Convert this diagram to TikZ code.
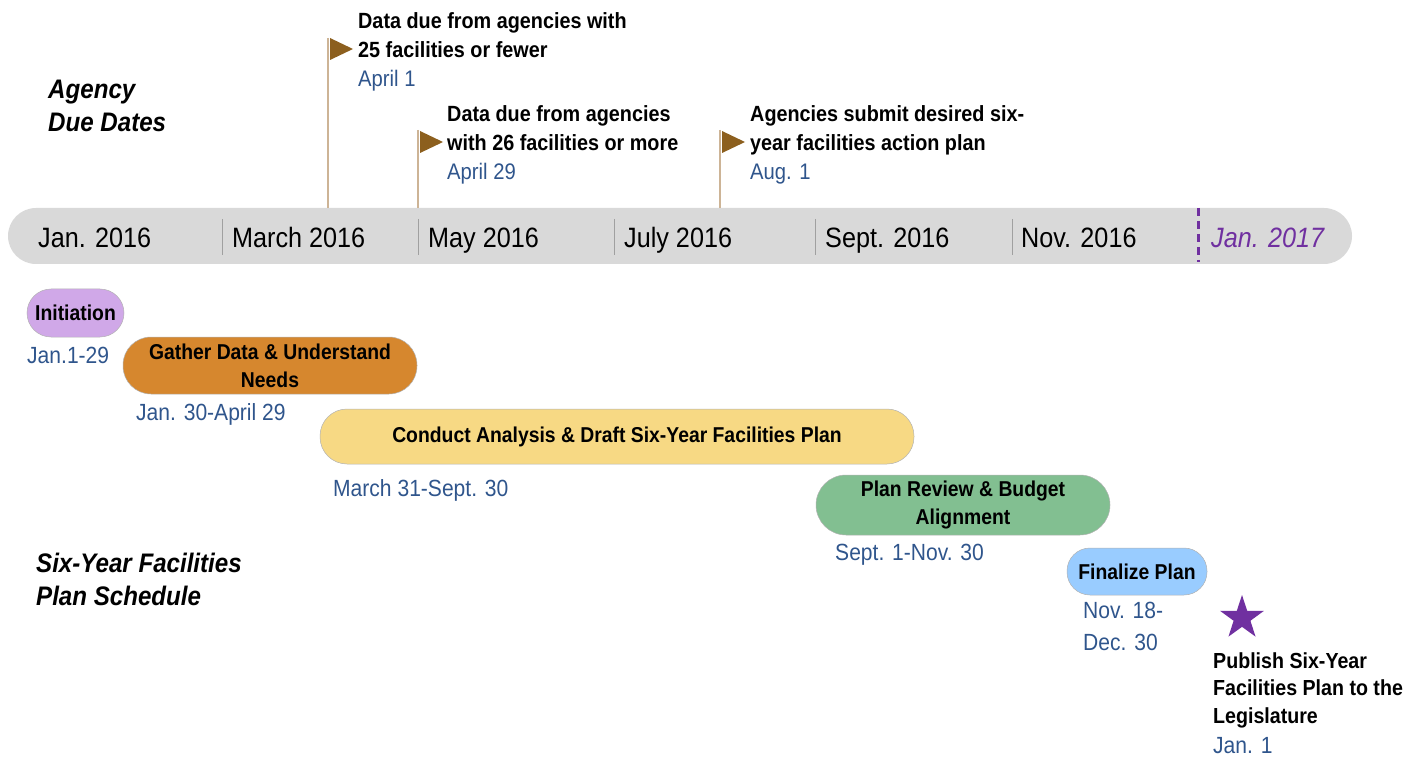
\documentclass[tikz,border=0pt]{standalone}
\usepackage{fontspec}
\setmainfont{Liberation Sans}[FakeStretch=0.9]
\usetikzlibrary{shapes.geometric}
\definecolor{bargray}{RGB}{217,217,217}
\definecolor{sepgray}{RGB}{160,160,160}
\definecolor{poletan}{RGB}{205,180,150}
\definecolor{flagbrown}{RGB}{140,95,30}
\definecolor{dateblue}{RGB}{47,85,140}
\definecolor{jpurple}{RGB}{112,48,160}
\definecolor{initc}{RGB}{208,168,232}
\definecolor{gatherc}{RGB}{214,135,46}
\definecolor{conductc}{RGB}{247,217,132}
\definecolor{reviewc}{RGB}{130,191,145}
\definecolor{finalc}{RGB}{153,204,255}
\tikzset{
  blk/.style={font=\fontsize{22}{29}\selectfont\bfseries, text=black, inner sep=0, anchor=north west, align=left},
  dt/.style={font=\fontsize{22.5}{32}\selectfont, text=dateblue, inner sep=0, anchor=base west, align=left},
  pdt/.style={dt, font=\fontsize{23.4}{32}\selectfont},
  month/.style={font=\fontsize{28}{30}\selectfont, inner sep=0, anchor=base west},
  sect/.style={font=\fontsize{26.8}{33}\selectfont\bfseries\itshape, inner sep=0, anchor=north west, align=left},
  phase/.style={font=\fontsize{21.5}{28}\selectfont\bfseries, draw=gray!60, line width=0.5pt, inner sep=0, align=center},
  pole/.style={draw=poletan, line width=1.6pt},
  sepline/.style={draw=sepgray, line width=0.8pt},
  flagtri/.style={fill=flagbrown}
}
\begin{document}
\begin{tikzpicture}[x=1pt,y=-1pt]
\useasboundingbox (0,0) rectangle (1421,759);
% timeline bar
\node (bar) [fill=bargray, rounded corners=28pt, minimum width=1344pt, minimum height=56pt, inner sep=0] at (680,236) {};
\foreach \x in {222,418,614,815,1012} \draw[sepline] (\x,219) -- (\x,255);
\draw[jpurple, line width=3pt, dash pattern=on 8pt off 5pt] (1198,208) -- (1198,262);
\node[month] (m1) at (38,248) {Jan. 2016};
\node[month] (m2) at (232,248) {March 2016};
\node[month] (m3) at (428,248) {May 2016};
\node[month] (m4) at (624,248) {July 2016};
\node[month] (m5) at (825,248) {Sept. 2016};
\node[month] (m6) at (1021,248) {Nov. 2016};
\node[month, font=\fontsize{28}{30}\selectfont\itshape, text=jpurple] (m7) at (1211,248) {Jan. 2017};
% section labels
\node[sect] (agency) at (48,80) {Agency\\Due Dates};
\node[sect] (sched) at (36,553) {Six-Year Facilities\\Plan Schedule};
% flags
\coordinate (f1) at (328,38);
\coordinate (f2) at (418,130);
\coordinate (f3) at (720,130);
\draw[pole] (f1) -- (f1 |- bar.north);
\draw[pole] (f2) -- (f2 |- bar.north);
\draw[pole] (f3) -- (f3 |- bar.north);
\fill[flagtri] (330,38) -- (353,49) -- (330,60) -- cycle;
\fill[flagtri] (420,131) -- (443,142) -- (420,153) -- cycle;
\fill[flagtri] (722,131) -- (745,142) -- (722,153) -- cycle;
\node[blk] (t1) at (358,12) {Data due from agencies with\\25 facilities or fewer};
\node[dt] (d1) at (358,87) {April 1};
\node[blk] (t2) at (447,105) {Data due from agencies\\with 26 facilities or more};
\node[dt] (d2) at (447,180) {April 29};
\node[blk] (t3) at (750,105) {Agencies submit desired six-\\year facilities action plan};
\node[dt] (d3) at (750,180) {Aug. 1};
% phases
\node[phase, fill=initc, rounded corners=24pt, minimum width=97pt, minimum height=48pt] (init) at (75.5,313) {Initiation};
\node[pdt] (di) at (27,363) {Jan.1-29};
\node[phase, fill=gatherc, rounded corners=28pt, minimum width=294pt, minimum height=57pt] (gather) at (270,365.5) {Gather Data \& Understand\\Needs};
\node[pdt] (dg) at (136,420) {Jan. 30-April 29};
\node[phase, fill=conductc, rounded corners=27pt, minimum width=594pt, minimum height=55pt] (conduct) at (617,436.5) {Conduct Analysis \& Draft Six-Year Facilities Plan};
\node[pdt] (dc) at (333,496) {March 31-Sept. 30};
\node[phase, fill=reviewc, rounded corners=30pt, minimum width=294pt, minimum height=60pt] (review) at (963,505) {Plan Review \& Budget\\Alignment};
\node[pdt] (dr) at (835,560) {Sept. 1-Nov. 30};
\node[phase, fill=finalc, rounded corners=23pt, minimum width=140pt, minimum height=47pt] (final) at (1137,571.5) {Finalize Plan};
\node[pdt] (df) at (1083,650) {Nov. 18-\\Dec. 30};
% publish
\node[star, star points=5, star point ratio=2.6, fill=jpurple, minimum size=46pt, inner sep=0] (star) at (1242,618) {};
\node[blk, font=\fontsize{21.8}{27.5}\selectfont\bfseries] (pub) at (1213,652) {Publish Six-Year\\Facilities Plan to the\\Legislature};
\node[pdt] (dp) at (1213,753) {Jan. 1};
\end{tikzpicture}
\end{document}
